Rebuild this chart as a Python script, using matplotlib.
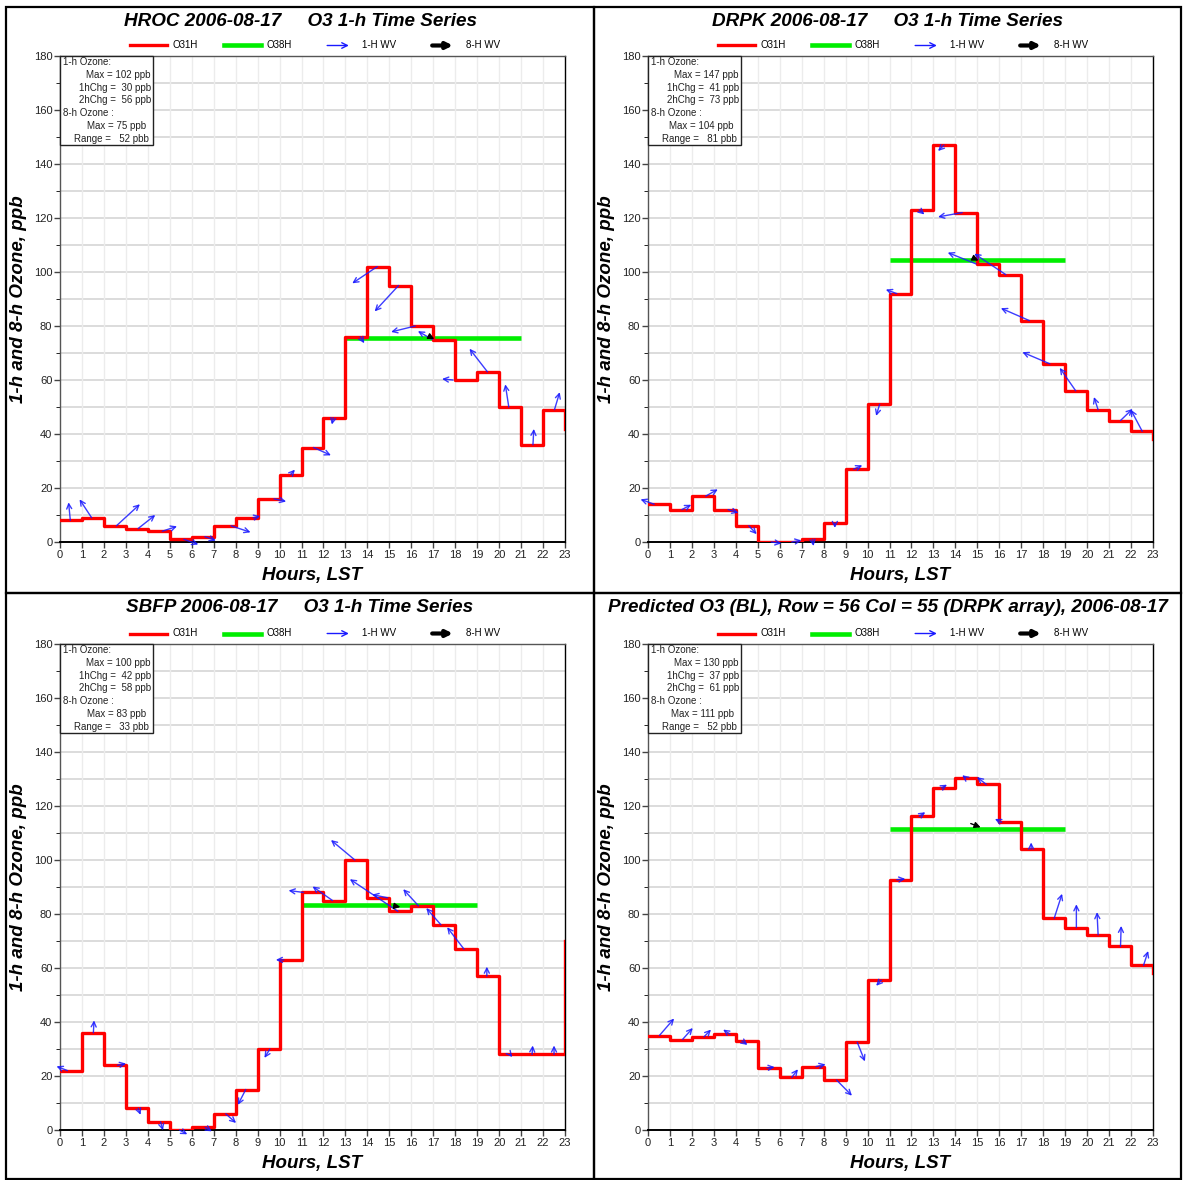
import matplotlib
matplotlib.use("Agg")
import matplotlib.pyplot as plt
from matplotlib.patches import Rectangle
import numpy as np

plt.rcParams['font.family'] = ['Liberation Sans', 'DejaVu Sans']

hours = list(range(24))

# ---- data ----
titles = ["HROC 2006-08-17     O3 1-h Time Series",
          "DRPK 2006-08-17     O3 1-h Time Series",
          "SBFP 2006-08-17     O3 1-h Time Series",
          "Predicted O3 (BL), Row = 56 Col = 55 (DRPK array), 2006-08-17"]

o3_hroc = [8, 9, 6, 5, 4, 1, 2, 6, 9, 16, 25, 35, 46, 76, 102, 95, 80, 75, 60, 63, 50, 36, 49, 42]
o3_drpk = [14, 12, 17, 12, 6, 0, 0, 1, 7, 27, 51, 92, 123, 147, 122, 103, 99, 82, 66, 56, 49, 45, 41, 38]
o3_sbfp = [22, 36, 24, 8, 3, 0, 1, 6, 15, 30, 63, 88, 85, 100, 86, 81, 83, 76, 67, 57, 28, 28, 28, 70]
o3_pred = [35, 33.5, 34.5, 35.5, 33, 23, 19.5, 23.5, 18.5, 32.5, 55.5, 92.7, 116.2, 126.7, 130.4, 128, 114, 104, 78.4, 75, 72.3, 68, 61, 58]

o38_level = [75.5, 104.5, 83.5, 111.5]
o38_start = [13, 11, 11, 11]
o38_end = [21, 19, 19, 19]

# stats box: 1-h max, 1hChg, 2hChg, 8-h max, range
stats_hroc = [102, 30, 56, 75, 52]
stats_drpk = [147, 41, 73, 104, 81]
stats_sbfp = [100, 42, 58, 83, 33]
stats_pred = [130, 37, 61, 111, 52]

# 1-h wind vectors (hours 0-22): anchor hour, u (hours), v (ppb)
wx_hroc = [0.47, 1.44, 2.57, 3.56, 4.66, 5.64, 6.6, 7.79, 8.8, 9.75, 10.5, 11.55,
           12.45, 13.67, 14.45, 15.42, 16.18, 16.96, 17.9, 19.47, 20.44, 21.54, 22.52]
wu_hroc = [-0.08, -0.55, 1.07, 0.78, 0.67, 0.66, 0.5, 0.89, 0.32, 0.55, 0.2, 0.79,
           -0.07, 0.19, -1.14, -1.09, -1.1, -0.66, -0.5, -0.82, -0.16, 0.04, 0.24]
wv_hroc = [6.7, 6.8, 8, 5, 1.8, -1.9, -1.5, -2.4, 0.6, -1, 1.8, -2.9,
           -2.5, -2.4, -6.2, -9.6, -2.2, 3.1, 0.4, 8.6, 8.4, 5.9, 6.5]

wx_drpk = [0.28, 1.54, 2.63, 3.65, 4.59, 5.61, 6.55, 7.49, 8.51, 9.37, 10.55, 11.33,
           12.35, 13.48, 14.31, 14.94, 16.3, 17.37, 18.3, 19.48, 20.5, 21.52, 22.51]
wu_drpk = [-0.62, 0.43, 0.55, 0.47, 0.36, 0.47, 0.44, 0.05, 0, 0.39, -0.16, -0.5,
           0.24, -0.27, -1.1, -1.29, -1.44, -1.3, -1.25, -0.73, -0.19, 0.55, -0.52]
wv_drpk = [1.8, 1.8, 2.5, -1.2, -3.1, -0.5, 0.6, -2.5, -1.8, 1.4, -4.3, 1.5,
           -1.7, -2.2, -1.6, 4.2, 7.8, 4.6, 4.3, 8.5, 4.7, 4.3, 8]

wx_sbfp = [0.34, 1.52, 2.62, 3.56, 4.58, 5.44, 6.61, 7.55, 8.46, 9.56, 10.19, 11.08,
           12.41, 13.43, 14.92, 15.39, 16.33, 17.35, 18.4, 19.44, 20.5, 21.5, 22.5]
wu_sbfp = [-0.5, 0.03, 0.39, 0.11, 0.11, 0.36, 0.31, 0.47, -0.36, -0.25, -0.36, -0.67,
           -0.91, -1.09, -0.7, -2.19, -0.7, -0.67, -0.77, 0, 0.1, 0.03, 0]
wv_sbfp = [1.6, 4.6, 0.6, -2.4, -3.1, -1.6, -1.5, -3.4, -5.7, -3.3, 0, 0.7,
           5.2, 7.4, 1.2, 11.9, 6.2, 6.2, 8.1, 3.5, -1, 3.3, 3.3]

wx_pred = [0.52, 1.57, 2.55, 3.73, 4.28, 5.42, 6.55, 7.65, 8.59, 9.53, 10.63, 11.33,
           12.35, 13.37, 14.47, 15.41, 16.11, 17.45, 18.5, 19.51, 20.5, 21.52, 22.57]
wu_pred = [0.67, 0.47, 0.32, -0.31, 0.25, 0.35, 0.28, 0.44, 0.7, 0.35, -0.24, 0.39,
           0.28, 0.25, -0.16, -0.43, -0.31, 0, 0.36, 0, -0.05, 0.03, 0.21]
wv_pred = [6.3, 4.3, 2.7, 1.7, -1.5, 0.3, 3, 0.8, -5.8, -7.1, -2.1, 0.3,
           1.5, 1.2, 1, 2.7, 1.2, 2.5, 9.1, 8.6, 8.4, 7.6, 5.3]

# 8-h wind vector: anchor x, anchor y, u, v
w8_hroc = [16.9, 75.8, 0.15, -0.6]
w8_drpk = [14.9, 104.8, 0.15, -0.6]
w8_sbfp = [15.2, 83.0, 0.3, -0.4]
w8_pred = [14.7, 113.5, 0.45, -1.4]

panels = [
    (o3_hroc, stats_hroc, wx_hroc, wu_hroc, wv_hroc, w8_hroc),
    (o3_drpk, stats_drpk, wx_drpk, wu_drpk, wv_drpk, w8_drpk),
    (o3_sbfp, stats_sbfp, wx_sbfp, wu_sbfp, wv_sbfp, w8_sbfp),
    (o3_pred, stats_pred, wx_pred, wu_pred, wv_pred, w8_pred),
]

W, H = 1183, 1180
fig = plt.figure(figsize=(W / 100, H / 100), dpi=100)

# axes rectangles in pixels: left, top
ax_pos = [(60, 56), (648, 56), (60, 644), (648, 644)]
ax_w, ax_h = 505, 486
# panel frames in pixels: left, top, right, bottom
frames = [(6, 7, 594, 593), (594, 7, 1181, 593), (6, 593, 594, 1179), (594, 593, 1181, 1179)]

blue = '#1a1aff'
for i, (o3, st, wx, wu, wv, w8) in enumerate(panels):
    px, py = ax_pos[i]
    ax = fig.add_axes([px / W, 1 - (py + ax_h) / H, ax_w / W, ax_h / H])

    ax.set_xlim(0, 23)
    ax.set_ylim(0, 180)
    ax.set_xticks(hours)
    ax.set_yticks(np.arange(0, 181, 20))
    ax.set_yticks(np.arange(10, 180, 20), minor=True)
    ax.tick_params(axis='both', labelsize=8, labelcolor='#222222', color='#444444',
                   length=4, width=1, pad=1.5)
    ax.tick_params(axis='y', which='minor', length=3)
    ax.tick_params(axis='x', length=4)
    for v in np.arange(10, 180, 10):
        ax.axhline(v, color='#d9d9d9', lw=1.3, zorder=0)
    for h in hours[1:-1]:
        ax.axvline(h, color='#ececec', lw=1.0, zorder=0)
    for s in ax.spines.values():
        s.set_color('#555555')
        s.set_linewidth(1.0)
    ax.spines['bottom'].set_color('black')
    ax.spines['bottom'].set_linewidth(1.4)
    ax.spines['right'].set_color('black')

    ax.step(hours, o3, where='post', color='red', lw=2.4, zorder=3)
    ax.plot([o38_start[i], o38_end[i]], [o38_level[i]] * 2, color='#00ee00', lw=3.3,
            zorder=2, solid_capstyle='butt')

    # 1-h wind vectors, anchored on the ozone value of the hour
    for h in range(len(wx)):
        ax.annotate('', xy=(wx[h] + wu[h], o3[h] + wv[h]), xytext=(wx[h], o3[h]),
                    arrowprops=dict(arrowstyle='->', color=blue, lw=1.0, alpha=0.85,
                                    mutation_scale=9, shrinkA=0, shrinkB=0),
                    annotation_clip=False, zorder=4)
    ax.annotate('', xy=(w8[0] + w8[2], w8[1] + w8[3]), xytext=(w8[0], w8[1]),
                arrowprops=dict(arrowstyle='-|>', color='black', lw=1.0,
                                mutation_scale=9, shrinkA=0, shrinkB=0),
                annotation_clip=False, zorder=5)

    # stats box
    bw, bh = 93 / ax_w, 89 / ax_h
    ax.add_patch(Rectangle((0, 1 - bh), bw, bh, transform=ax.transAxes, facecolor='white',
                           edgecolor='#222222', lw=1.0, zorder=6, clip_on=False))
    lines = [("1-h Ozone:", 'left', 0.006),
             ("Max = %d ppb" % st[0], 'right', 0.180),
             ("1hChg =  %d ppb" % st[1], 'right', 0.180),
             ("2hChg =  %d ppb" % st[2], 'right', 0.180),
             ("8-h Ozone :", 'left', 0.006),
             ("Max = %d ppb" % st[3], 'right', 0.170),
             ("Range =   %d pbb" % st[4], 'right', 0.176)]
    for k, (txt, ha, x) in enumerate(lines):
        ax.text(x, 1 - (6 + 12.8 * k) / ax_h, txt, transform=ax.transAxes, ha=ha,
                va='center', fontsize=7, color='#222222', zorder=7)

    # legend row above the axes
    ly = 1 + 10.5 / ax_h
    ax.plot([0.139, 0.212], [ly, ly], transform=ax.transAxes, color='red', lw=2.4,
            clip_on=False)
    ax.text(0.222, ly, "O31H", transform=ax.transAxes, va='center', fontsize=7)
    ax.plot([0.325, 0.398], [ly, ly], transform=ax.transAxes, color='#00ee00', lw=3.3,
            clip_on=False)
    ax.text(0.408, ly, "O38H", transform=ax.transAxes, va='center', fontsize=7)
    ax.annotate('', xy=(0.572, ly), xytext=(0.529, ly), xycoords='axes fraction',
                arrowprops=dict(arrowstyle='->', color=blue, lw=1.0, mutation_scale=10,
                                shrinkA=0, shrinkB=0), annotation_clip=False)
    ax.text(0.598, ly, "1-H WV", transform=ax.transAxes, va='center', fontsize=7)
    ax.annotate('', xy=(0.778, ly), xytext=(0.737, ly), xycoords='axes fraction',
                arrowprops=dict(arrowstyle='-|>', color='black', lw=3.0, mutation_scale=9,
                                shrinkA=0, shrinkB=0), annotation_clip=False)
    ax.text(0.804, ly, "8-H WV", transform=ax.transAxes, va='center', fontsize=7)

    ax.set_ylabel("1-h and 8-h Ozone, ppb", fontsize=13.5, fontweight='bold',
                  fontstyle='italic')
    ax.yaxis.set_label_coords(-33 / ax_w, 0.5)
    ax.set_xlabel("Hours, LST", fontsize=13.5, fontweight='bold', fontstyle='italic')
    ax.xaxis.set_label_coords(0.5, -25 / ax_h)

    fl, ft, fr, fb = frames[i]
    fig.text((fl + fr) / 2 / W, 1 - (ft + 14) / H, titles[i], ha='center', va='center',
             fontsize=13.6, fontweight='bold', fontstyle='italic')

# panel frames
for fl, ft, fr, fb in frames:
    fig.patches.append(Rectangle((fl / W, 1 - fb / H), (fr - fl) / W, (fb - ft) / H,
                                 transform=fig.transFigure, fill=False, edgecolor='black',
                                 lw=1.6, zorder=10))

fig.savefig("out.png", dpi=100)
